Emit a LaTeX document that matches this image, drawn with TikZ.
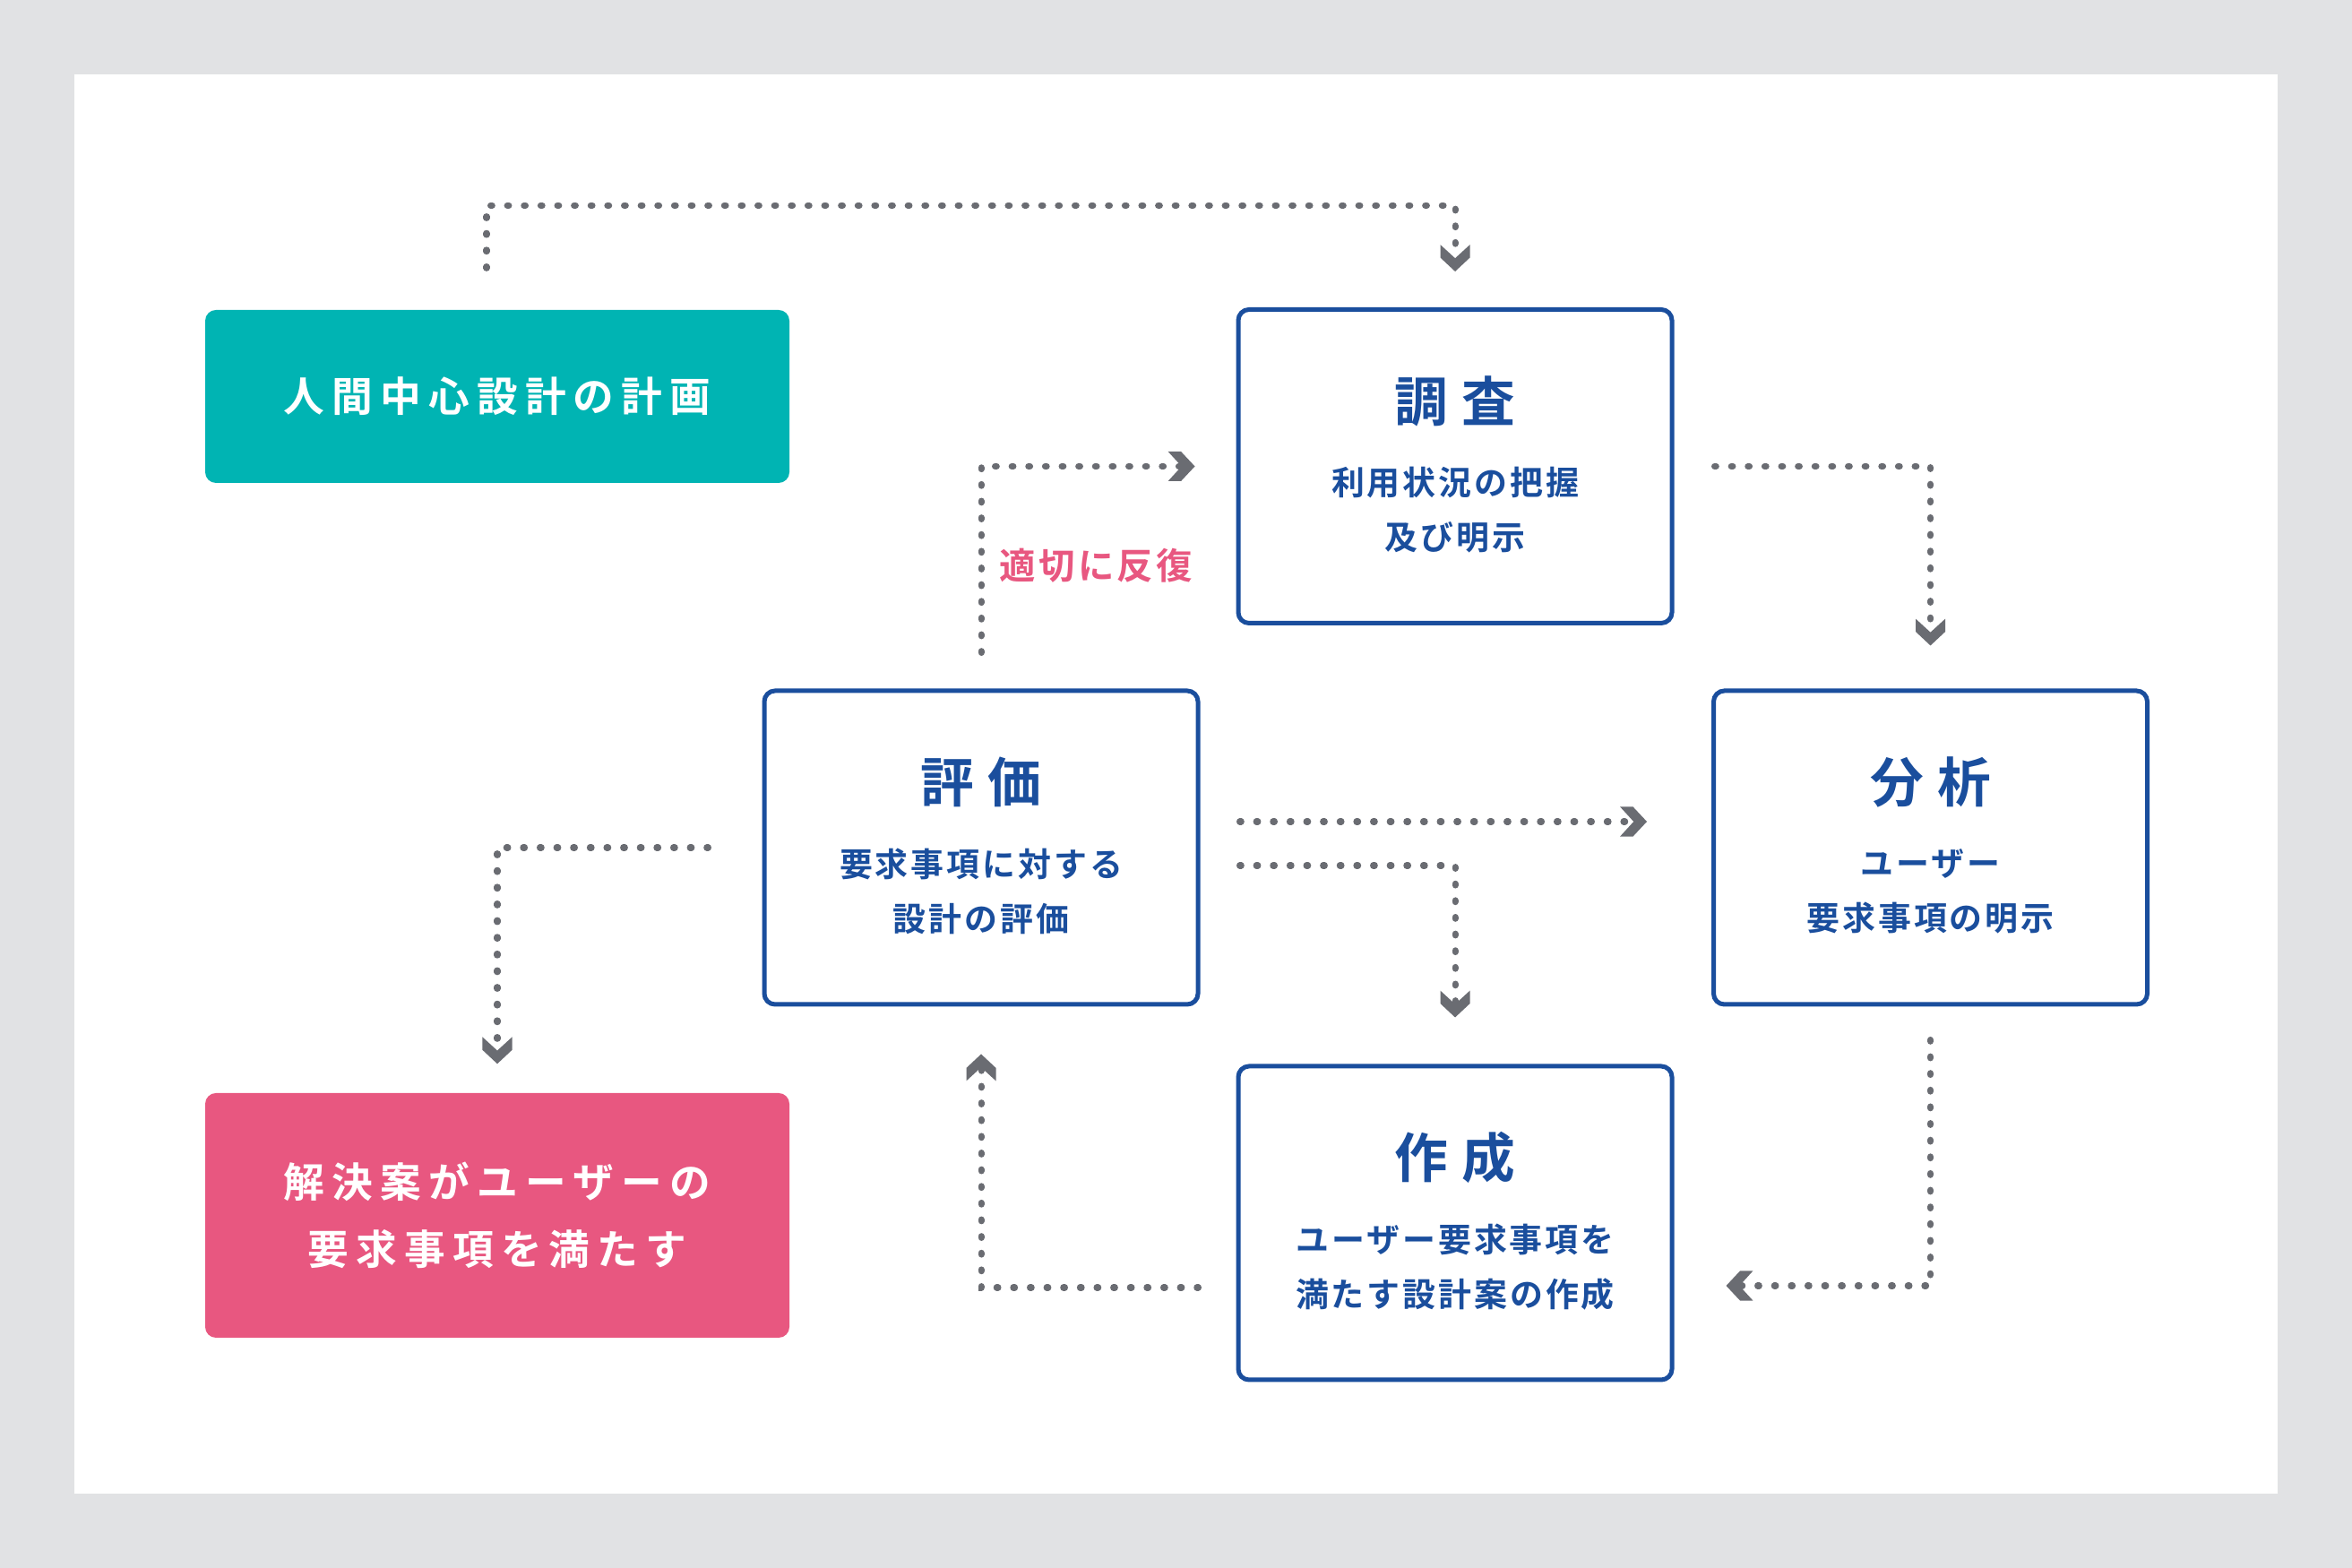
\documentclass[tikz,border=0pt]{standalone}
\usepackage{fontspec}
\setmainfont{Noto Sans CJK JP}[BoldFont={* Bold}]
\usetikzlibrary{arrows.meta}

\definecolor{bggray}{HTML}{E1E2E4}
\definecolor{planteal}{HTML}{00B4B3}
\definecolor{goalpink}{HTML}{E85780}
\definecolor{stepblue}{HTML}{1A4E9D}
\definecolor{arrowgray}{HTML}{6A6C72}

\newcommand{\headfont}{\bfseries\fontsize{17}{20}\selectfont\addfontfeature{LetterSpace=25}}
\newcommand{\subfont}{\bfseries\fontsize{10.5}{17.3}\selectfont\addfontfeature{LetterSpace=8}}
\newcommand{\boxfont}{\bfseries\fontsize{13}{21.3}\selectfont\addfontfeature{LetterSpace=18}}
\newcommand{\labelfont}{\bfseries\fontsize{11.5}{14}\selectfont\addfontfeature{LetterSpace=8}}

\pgfdeclarearrow{
  name = Chevron,
  setup code = {
    \pgfarrowssettipend{0pt}
    \pgfarrowssetbackend{-8.5pt}
    \pgfarrowssetlineend{-4pt}
    \pgfarrowsupperhullpoint{0pt}{0pt}
    \pgfarrowsupperhullpoint{-8.5pt}{4.7pt}
  },
  drawing code = {
    \pgfpathmoveto{\pgfpointorigin}
    \pgfpathlineto{\pgfpoint{-4.4pt}{4.7pt}}
    \pgfpathlineto{\pgfpoint{-8.5pt}{4.7pt}}
    \pgfpathlineto{\pgfpoint{-4.2pt}{0pt}}
    \pgfpathlineto{\pgfpoint{-8.5pt}{-4.7pt}}
    \pgfpathlineto{\pgfpoint{-4.4pt}{-4.7pt}}
    \pgfpathclose
    \pgfusepathqfill
  },
  defaults = {}
}

\begin{document}
\begin{tikzpicture}[
    stepbox/.style={draw=stepblue, line width=0.05cm, rounded corners=0.12cm,
        minimum width=4.84cm, minimum height=3.5cm, fill=white},
    endbox/.style={rounded corners=0.12cm, minimum width=6.52cm, text=white,
        font=\boxfont, align=center},
    headtext/.style={text=stepblue, font=\headfont, inner sep=0pt},
    subtext/.style={text=stepblue, font=\subfont, align=center, inner sep=0pt},
    flow/.style={color=arrowgray, line width=2pt, dash pattern=on 0.5pt off 4.8pt,
        line cap=round, -Chevron}
]
    \useasboundingbox (0,0) rectangle (26.25,17.5);
    \fill [fill = bggray] (0,0) rectangle (26.25,17.5);
    \fill [fill = white] (0.83,0.83) rectangle (25.42,16.67);

    \node (plan) at (5.55,13.075) [endbox, fill=planteal, minimum height=1.93cm] {人間中心設計の計画};
    \node (goal) at (5.55,3.935) [endbox, fill=goalpink, minimum height=2.73cm] {解決案がユーザーの\\要求事項を満たす};

    \node (survey) at (16.24,12.295) [stepbox] {};
    \node (surveyHead) at ([yshift=7.3mm]survey.center) [headtext] {調査};
    \node (surveyText) at ([yshift=-4.9mm]survey.center) [subtext] {利用状況の把握\\及び明示};

    \node (evaluate) at (10.95,8.04) [stepbox] {};
    \node (evaluateHead) at ([yshift=7.3mm]evaluate.center) [headtext] {評価};
    \node (evaluateText) at ([yshift=-4.9mm]evaluate.center) [subtext] {要求事項に対する\\設計の評価};

    \node (analyze) at (21.545,8.04) [stepbox] {};
    \node (analyzeHead) at ([yshift=7.3mm]analyze.center) [headtext] {分析};
    \node (analyzeText) at ([yshift=-4.9mm]analyze.center) [subtext] {ユーザー\\要求事項の明示};

    \node (create) at (16.24,3.85) [stepbox] {};
    \node (createHead) at ([yshift=7.3mm]create.center) [headtext] {作成};
    \node (createText) at ([yshift=-4.9mm]create.center) [subtext] {ユーザー要求事項を\\満たす設計案の作成};

    \node (repeatLabel) at (11.15,11.19) [anchor=west, text=goalpink, font=\labelfont, inner sep=0pt] {適切に反復};

    \draw [flow] ([xshift=-1.2mm,yshift=4.6mm]plan.north) -- ++(0,0.7) -| ([yshift=4mm]survey.north);
    \draw [flow] ([yshift=4mm]evaluate.north) |- ([xshift=-4.6mm]survey.west);
    \draw [flow] ([xshift=4.5mm]survey.east) -| ([yshift=4.8mm]analyze.north);
    \draw [flow] ([xshift=4.4mm,yshift=2.9mm]evaluate.east) -- ([xshift=-7.2mm,yshift=2.9mm]analyze.west);
    \draw [flow] ([xshift=4.4mm,yshift=-2mm]evaluate.east) -| ([yshift=5.2mm]create.north);
    \draw [flow] ([yshift=-3.7mm]analyze.south) |- ([xshift=5.8mm,yshift=-7mm]create.east);
    \draw [flow] ([xshift=-4.2mm,yshift=-7.2mm]create.west) -| ([yshift=-5.3mm]evaluate.south);
    \draw [flow] ([xshift=-6mm]evaluate.west) -| ([yshift=3.2mm]goal.north);
\end{tikzpicture}
\end{document}
